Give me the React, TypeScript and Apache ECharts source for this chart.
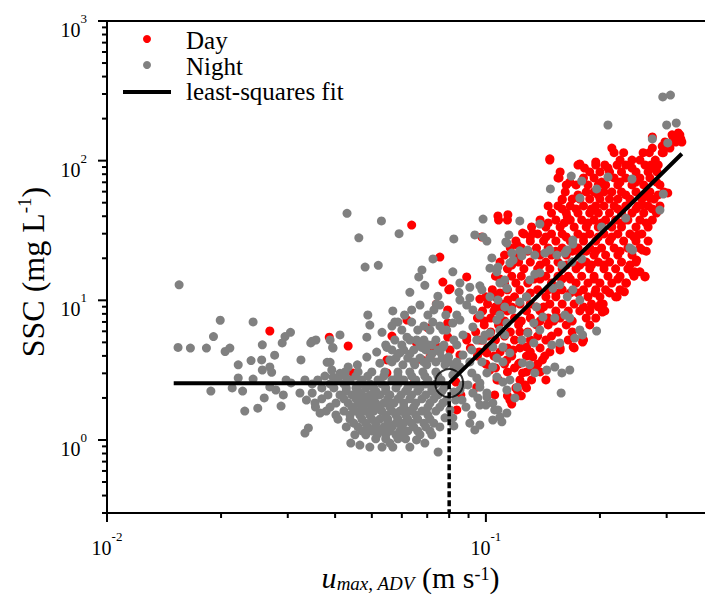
import React, { useEffect, useRef } from 'react';
import * as echarts from 'echarts';

const FONT = "'Liberation Serif', 'Times New Roman', serif";

const X_MIN = 0.01;
const X_MAX = 0.4;
const Y_MIN = 0.3;
const Y_MAX = 1000;

const xMajorTicks = [0.01, 0.1];
const xMinorTicks = [0.02, 0.03, 0.04, 0.05, 0.06, 0.07, 0.08, 0.09, 0.2, 0.3];
const yMajorTicks = [1, 10, 100, 1000];
const yMinorTicks = [
  0.3, 0.4, 0.5, 0.6, 0.7, 0.8, 0.9,
  2, 3, 4, 5, 6, 7, 8, 9,
  20, 30, 40, 50, 60, 70, 80, 90,
  200, 300, 400, 500, 600, 700, 800, 900,
];

// least-squares fit (two segments) and break point
const fitLine = [[0.015, 2.55], [0.08, 2.55], [0.329, 112]];
const breakPoint = [0.08, 2.55];

// Night (grey) points – sparse / outlying points
const nightSparse = [
  [0.0155, 12.9], [0.0154, 4.6], [0.0166, 4.55], [0.0183, 4.55], [0.0199, 7.2], [0.0191, 5.5],
  [0.0205, 4.3], [0.0211, 4.55], [0.0243, 7.0], [0.0222, 3.45], [0.024, 3.7], [0.0256, 3.74],
  [0.0257, 3.17], [0.0188, 2.24], [0.0214, 2.36], [0.0228, 2.24], [0.0222, 2.78], [0.0243, 2.73],
  [0.0231, 1.61], [0.025, 1.69], [0.026, 2.0], [0.0288, 1.75], [0.0292, 2.1], [0.0269, 2.4],
  [0.0279, 2.28], [0.0297, 2.69], [0.0306, 2.56], [0.0257, 4.8], [0.0277, 4.05], [0.029, 4.95],
  [0.0295, 5.5], [0.0305, 5.9], [0.0272, 3.05], [0.0269, 3.33], [0.0325, 3.74], [0.0333, 1.12],
  [0.034, 1.22], [0.0323, 2.17], [0.0336, 1.93], [0.0348, 2.17], [0.0355, 1.72], [0.0365, 1.56],
  [0.0345, 4.95], [0.0356, 5.2], [0.0394, 4.6], [0.0412, 5.65], [0.0381, 3.6], [0.0392, 3.17],
  [0.0395, 2.82], [0.0412, 3.0], [0.044, 0.95], [0.0465, 0.92], [0.0494, 0.89], [0.0532, 0.89],
  [0.0558, 0.95], [0.0568, 0.89], [0.0604, 1.05], [0.063, 0.89], [0.0656, 1.0], [0.069, 0.95],
  [0.0748, 0.82], [0.043, 42], [0.053, 37], [0.0462, 28], [0.059, 30], [0.048, 17.3], [0.052, 17.8],
  [0.0665, 14.7], [0.0725, 19.8], [0.074, 9.4], [0.0568, 8.4], [0.0575, 7.0], [0.0488, 7.85],
  [0.0494, 6.65], [0.0485, 5.45], [0.0532, 5.9], [0.0388, 5.2], [0.0395, 4.55], [0.0348, 5.1],
  [0.0388, 3.6], [0.0433, 3.33], [0.0458, 3.45], [0.0485, 3.92], [0.0515, 4.26], [0.0548, 4.6],
  [0.0525, 3.55], [0.0558, 3.74], [0.0593, 4.2], [0.0619, 5.45], [0.0656, 5.2], [0.0677, 4.6],
  [0.0703, 4.8], [0.063, 11.4], [0.069, 12.8], [0.0747, 10.7], [0.0678, 16.5], [0.0818, 16.0],
  [0.0854, 13.3],
];

// Night (grey) dense cloud, read row by row: [SSC, [u values]]
const nightBlobRows = [
  [3.07, [0.0425, 0.046, 0.05, 0.0541, 0.0586, 0.063, 0.0682, 0.0738]],
  [2.87, [0.0376, 0.0425, 0.0454, 0.0488, 0.0538, 0.0586, 0.0637, 0.069, 0.0747]],
  [2.69, [0.0333, 0.036, 0.0407, 0.0438, 0.0471, 0.0519, 0.0565, 0.0607, 0.0653, 0.0703, 0.0761]],
  [2.52, [0.0348, 0.0388, 0.0422, 0.0465, 0.0494, 0.0531, 0.0586, 0.0645, 0.0694, 0.0738]],
  [2.36, [0.0369, 0.0397, 0.0428, 0.0454, 0.0482, 0.0506, 0.0544, 0.0579, 0.0622, 0.067, 0.072, 0.0775]],
  [2.24, [0.0428, 0.046, 0.0512, 0.0544, 0.0614, 0.0661, 0.072, 0.0766]],
  [2.1, [0.0383, 0.0412, 0.0443, 0.0471, 0.0494, 0.0525, 0.0558, 0.0597, 0.0637, 0.0694, 0.0747]],
  [1.97, [0.0369, 0.0422, 0.0454, 0.0477, 0.0506, 0.0551, 0.0586, 0.063, 0.0678, 0.0729]],
  [1.84, [0.0354, 0.0402, 0.0433, 0.046, 0.0488, 0.0512, 0.0538, 0.0572, 0.0607, 0.0653, 0.0712, 0.077]],
  [1.72, [0.0388, 0.0443, 0.0471, 0.05, 0.0525, 0.0558, 0.0607, 0.0645, 0.0703, 0.0756]],
  [1.61, [0.0379, 0.0422, 0.0454, 0.0482, 0.0506, 0.0531, 0.0565, 0.0593, 0.063, 0.0678, 0.0738]],
  [1.51, [0.0402, 0.0438, 0.0465, 0.0494, 0.0544, 0.0579, 0.0614, 0.0653, 0.0703]],
  [1.41, [0.0407, 0.0438, 0.0471, 0.05, 0.0525, 0.0551, 0.0586, 0.0622, 0.0661, 0.0712]],
  [1.32, [0.0448, 0.0482, 0.0512, 0.0551, 0.0579, 0.0607, 0.0637, 0.0686, 0.0729]],
  [1.24, [0.0428, 0.046, 0.0488, 0.0512, 0.0538, 0.0565, 0.06, 0.0645, 0.0694, 0.0756]],
  [1.16, [0.0471, 0.05, 0.0531, 0.0558, 0.0593, 0.0622, 0.0661, 0.0712]],
  [1.09, [0.0451, 0.0482, 0.0516, 0.0544, 0.0579, 0.067, 0.072]],
  [1.02, [0.0512, 0.0544, 0.0586, 0.0614]],
  [9.26, [0.067, 0.0756]],
  [8.53, [0.0637, 0.0729]],
  [7.85, [0.061, 0.0703, 0.0784, 0.0838, 0.0964, 0.1089]],
  [6.99, [0.0586, 0.0637, 0.0724]],
  [6.55, [0.0565, 0.0686, 0.0756]],
  [6.13, [0.06, 0.0661, 0.0712, 0.077]],
  [5.65, [0.087, 0.0994, 0.1122]],
  [5.2, [0.0575, 0.063, 0.0686, 0.0738]],
  [4.79, [0.0544, 0.06, 0.067, 0.072, 0.0775]],
  [4.41, [0.0565, 0.0607, 0.0645, 0.0694, 0.0747]],
  [4.13, [0.0586, 0.063, 0.072]],
  [3.86, [0.0579, 0.0622, 0.067, 0.0712, 0.0766]],
  [3.62, [0.0565, 0.0645, 0.0686, 0.0738, 0.0797, 0.0838, 0.0907, 0.0976]],
  [3.45, [0.0604, 0.0649, 0.0698, 0.078]],
  [2.0, [0.0952, 0.1193]],
  [1.78, [0.0964, 0.1]],
  [1.28, [0.0964]],
];

// Night (grey) points along the rising branch
const nightMixed = [
  [0.293, 286], [0.307, 295], [0.21, 180], [0.3, 180], [0.318, 186], [0.275, 143], [0.302, 134],
  [0.294, 57.7], [0.288, 44.3], [0.168, 77.6], [0.179, 71.5], [0.148, 62.7], [0.21, 76.4],
  [0.243, 73.9], [0.196, 62.7], [0.177, 54], [0.0983, 38.2], [0.1229, 37], [0.1388, 35.2],
  [0.0935, 29.4], [0.1006, 26.6], [0.1129, 26.2], [0.115, 29.4], [0.1171, 21.8], [0.1244, 20.8],
  [0.1037, 20.1], [0.1025, 17.0], [0.1069, 16.0], [0.1122, 14.0], [0.0964, 12.7], [0.1696, 25.3],
  [0.179, 19.8], [0.1346, 15.4], [0.1388, 15.7], [0.1587, 17.9], [0.1636, 22.9], [0.1475, 22.9],
  [0.1431, 21.8], [0.234, 38.8], [0.202, 33.5], [0.244, 22.9], [0.0823, 27.5], [0.0983, 28.4],
  [0.1136, 25.7], [0.1076, 17.3], [0.1157, 18.5], [0.118, 19.4], [0.129, 22.9], [0.1346, 21.1],
  [0.154, 21.1], [0.1616, 21.8], [0.1686, 18.8], [0.1696, 27.0], [0.1306, 14.0], [0.1089, 13.3],
  [0.1136, 12.2], [0.0976, 11.9], [0.0907, 10.4], [0.089, 9.26], [0.0924, 8.53], [0.0854, 7.23],
  [0.0818, 6.88], [0.0788, 6.13], [0.1025, 10.6], [0.1076, 10.05], [0.1122, 8.96], [0.1171, 8.53],
  [0.1229, 9.73], [0.128, 10.6], [0.136, 8.96], [0.1502, 12.2], [0.1567, 12.9], [0.164, 10.6],
  [0.1696, 11.9], [0.177, 10.05], [0.1616, 7.85], [0.152, 7.47], [0.1665, 7.47], [0.177, 6.13],
  [0.18, 5.65], [0.1716, 5.37], [0.1414, 7.6], [0.1338, 6.88], [0.1388, 6.13], [0.129, 5.84],
  [0.1244, 5.2], [0.1338, 4.95], [0.1493, 4.79], [0.1567, 4.95], [0.1069, 7.23], [0.1136, 6.88],
  [0.1089, 6.13], [0.1025, 5.84], [0.0982, 5.2], [0.1043, 4.63], [0.1109, 4.63], [0.1157, 4.2],
  [0.1069, 3.86], [0.1109, 3.62], [0.0924, 6.44], [0.0946, 5.2], [0.0918, 4.41], [0.087, 4.06],
  [0.0838, 4.79], [0.0823, 5.2], [0.077, 4.63], [0.0797, 3.93], [0.0756, 4.27], [0.125, 3.56],
  [0.1306, 3.45], [0.1346, 3.02], [0.1448, 3.17], [0.152, 3.33], [0.1665, 3.17], [0.1587, 3.02],
  [0.158, 2.17], [0.1043, 3.33], [0.1006, 3.02], [0.1069, 2.82], [0.1109, 2.6], [0.1157, 2.69],
  [0.121, 2.39], [0.1136, 2.28], [0.0918, 3.02], [0.0946, 2.78], [0.0897, 2.48], [0.0924, 2.17],
  [0.0854, 2.28], [0.0964, 2.39], [0.1006, 2.03], [0.1043, 1.84], [0.1076, 1.64], [0.1136, 1.56],
  [0.1043, 1.39], [0.1102, 1.35], [0.0865, 1.93], [0.0886, 1.72], [0.0918, 1.51], [0.0907, 1.32],
  [0.196, 6.03], [0.24, 23.7], [0.087, 2.48], [0.0964, 2.56], [0.1006, 2.17], [0.1055, 1.64],
  [0.1089, 1.46], [0.0832, 1.93], [0.0935, 1.18], [0.0823, 2.21], [0.0788, 1.93], [0.0804, 1.64],
  [0.078, 1.44], [0.0818, 1.44], [0.0823, 1.26], [0.0818, 2.92], [0.0854, 3.33], [0.0823, 3.33],
  [0.1229, 22.6], [0.0907, 12.4], [0.0849, 11.4], [0.0854, 10.05],
];

// Day (red) cloud, read row by row: [SSC, [u values]]
const dayRows = [
  [153, [0.31, 0.325]],
  [136, [0.297, 0.317, 0.329]],
  [123, [0.215, 0.275, 0.306]],
  [114, [0.218, 0.231, 0.26, 0.27, 0.292]],
  [101, [0.1475, 0.226, 0.243, 0.255, 0.28]],
  [93.1, [0.175, 0.195, 0.206, 0.222, 0.234, 0.263, 0.273, 0.285]],
  [88.6, [0.182, 0.21, 0.243, 0.275]],
  [83.0, [0.157, 0.188, 0.2, 0.212, 0.228, 0.249, 0.268, 0.283]],
  [75.2, [0.155, 0.181, 0.193, 0.218, 0.234, 0.255, 0.271]],
  [70.3, [0.1665, 0.202, 0.226, 0.249, 0.282]],
  [67.0, [0.163, 0.173, 0.186, 0.198, 0.207, 0.223, 0.243, 0.261, 0.288]],
  [59.7, [0.162, 0.184, 0.193, 0.205, 0.215, 0.228, 0.249, 0.271, 0.295]],
  [56.8, [0.175, 0.198, 0.234, 0.261, 0.285]],
  [53.1, [0.159, 0.169, 0.177, 0.188, 0.2, 0.212, 0.223, 0.24, 0.258, 0.278]],
  [47.4, [0.146, 0.155, 0.167, 0.181, 0.195, 0.205, 0.218, 0.234, 0.252, 0.268, 0.288]],
  [45.1, [0.159, 0.173, 0.19, 0.223, 0.249, 0.275]],
  [42.2, [0.149, 0.163, 0.175, 0.188, 0.198, 0.212, 0.228, 0.243, 0.261, 0.282]],
  [37.6, [0.108, 0.114, 0.139, 0.153, 0.167, 0.179, 0.193, 0.207, 0.22, 0.237, 0.255, 0.275]],
  [35.8, [0.146, 0.161, 0.186, 0.202, 0.228, 0.265]],
  [33.5, [0.132, 0.144, 0.157, 0.171, 0.184, 0.198, 0.215, 0.228, 0.249, 0.268]],
  [29.9, [0.126, 0.137, 0.149, 0.159, 0.175, 0.188, 0.205, 0.223, 0.24, 0.258]],
  [28.4, [0.131, 0.144, 0.163, 0.181, 0.198, 0.215, 0.246]],
  [26.6, [0.12, 0.131, 0.142, 0.153, 0.167, 0.181, 0.195, 0.212, 0.231, 0.249, 0.268]],
  [23.7, [0.116, 0.124, 0.136, 0.146, 0.159, 0.175, 0.188, 0.202, 0.218, 0.237, 0.255]],
  [22.5, [0.129, 0.153, 0.169, 0.184, 0.195, 0.226, 0.265]],
  [21.1, [0.112, 0.12, 0.139, 0.149, 0.163, 0.177, 0.193, 0.207, 0.223, 0.243]],
  [18.8, [0.109, 0.122, 0.131, 0.144, 0.155, 0.169, 0.184, 0.198, 0.212, 0.228, 0.249]],
  [17.9, [0.117, 0.139, 0.163, 0.177, 0.19, 0.205, 0.24]],
  [16.8, [0.114, 0.126, 0.137, 0.1475, 0.159, 0.173, 0.188, 0.205, 0.22, 0.237]],
  [14.9, [0.106, 0.117, 0.124, 0.144, 0.155, 0.165, 0.179, 0.193, 0.21, 0.226, 0.246, 0.263]],
  [14.2, [0.109, 0.134, 0.139, 0.159, 0.167, 0.193, 0.223]],
  [13.3, [0.112, 0.12, 0.129, 0.149, 0.173, 0.186, 0.2, 0.215, 0.234]],
  [11.9, [0.104, 0.114, 0.123, 0.137, 0.146, 0.159, 0.181, 0.195, 0.207, 0.226]],
  [11.3, [0.109, 0.131, 0.153, 0.167, 0.175, 0.212]],
  [10.6, [0.1, 0.106, 0.119, 0.128, 0.144, 0.153, 0.186, 0.2, 0.22]],
  [9.41, [0.101, 0.11, 0.123, 0.131, 0.1475, 0.159, 0.171, 0.19, 0.204]],
  [8.96, [0.106, 0.117, 0.136, 0.142, 0.181, 0.198]],
  [8.39, [0.098, 0.105, 0.114, 0.128, 0.139, 0.153, 0.165, 0.177, 0.188, 0.206]],
  [7.47, [0.095, 0.103, 0.119, 0.131, 0.146, 0.157, 0.184, 0.195]],
  [7.11, [0.099, 0.112, 0.124, 0.139, 0.151, 0.169]],
  [6.66, [0.099, 0.108, 0.122, 0.136, 0.146, 0.163, 0.188]],
  [5.93, [0.094, 0.103, 0.116, 0.123, 0.129, 0.155, 0.169]],
  [5.55, [0.101, 0.112, 0.137, 0.149]],
  [5.2, [0.089, 0.098, 0.106, 0.119, 0.131, 0.144, 0.165, 0.181]],
  [4.56, [0.091, 0.101, 0.114, 0.123, 0.139, 0.157, 0.171]],
  [4.27, [0.096, 0.109, 0.131, 0.1475]],
  [3.99, [0.095, 0.105, 0.117, 0.128, 0.143]],
  [3.5, [0.1, 0.112, 0.122, 0.137]],
  [3.28, [0.106, 0.119, 0.132]],
  [3.07, [0.114, 0.128, 0.139]],
  [2.69, [0.108, 0.123, 0.132, 0.144]],
  [2.36, [0.12, 0.128]],
  [2.07, [0.114, 0.124]],
  [1.81, [0.117]],
];

// Day (red) scattered points
const dayScattered = [
  [0.0637, 34.6], [0.0756, 20.4], [0.077, 13.5], [0.074, 9.4], [0.0269, 6.03], [0.0386, 5.45],
  [0.0433, 4.71], [0.0565, 5.55], [0.0619, 7.23], [0.0703, 6.34], [0.0724, 4.27], [0.0678, 3.74],
  [0.0548, 3.74], [0.0548, 3.02], [0.0446, 3.02], [0.0649, 2.69], [0.0793, 8.53], [0.0793, 6.88],
  [0.0793, 5.46], [0.0798, 11.9], [0.0656, 4.95], [0.0743, 4.63], [0.0712, 3.93], [0.0833, 2.6],
  [0.0838, 1.64], [0.0804, 4.41], [0.0854, 4.06], [0.089, 5.46], [0.0964, 5.2], [0.1025, 3.17],
  [0.107, 2.69], [0.1157, 1.93], [0.121, 2.28], [0.125, 3.02], [0.1229, 3.56], [0.1006, 4.2],
  [0.1136, 3.74], [0.118, 4.41], [0.128, 4.63], [0.133, 3.93], [0.136, 3.17], [0.0946, 2.39],
  [0.1055, 2.1], [0.127, 2.48], [0.0859, 2.1], [0.141, 3.74], [0.17, 4.63], [0.18, 5.03],
  [0.157, 4.41], [0.1076, 40.2], [0.1143, 41.0], [0.0976, 28.4], [0.121, 24.9], [0.125, 30.3],
  [0.133, 30.3], [0.089, 14.7], [0.0804, 12.1], [0.1475, 103], [0.156, 75.2], [0.159, 52.3],
  [0.164, 39.5], [0.177, 94.7], [0.195, 97.8], [0.302, 58.7], [0.271, 54], [0.259, 48.2],
  [0.252, 29.4], [0.259, 22.9], [0.25, 19.4], [0.247, 16.0], [0.263, 14.7], [0.255, 16.0],
  [0.244, 15.7], [0.235, 13.3], [0.232, 11.5], [0.222, 10.6], [0.203, 8.25], [0.2, 9.26],
  [0.194, 11.3], [0.188, 8.53], [0.322, 158], [0.327, 143], [0.312, 148], [0.292, 127],
  [0.294, 114], [0.275, 148], [0.0964, 10.2], [0.1043, 11.2], [0.1089, 8.7], [0.1143, 10.05],
];

const expandRows = (rows: any[]) => {
  const out: number[][] = [];
  rows.forEach(([y, xs]: [number, number[]]) => xs.forEach((x) => out.push([x, y])));
  return out;
};

const supLabel = (v: number) => {
  const e = Math.log10(v);
  const r = Math.round(e);
  if (Math.abs(e - r) > 1e-6) return '';
  return `{b|10}{s|${r}}`;
};

export default function App() {
  const ref = useRef<HTMLDivElement>(null);

  useEffect(() => {
    if (!ref.current) return;
    const chart = echarts.init(ref.current, undefined, { renderer: 'svg' });

    const dayData = [...expandRows(dayRows), ...dayScattered];
    const nightData = [...nightSparse, ...expandRows(nightBlobRows), ...nightMixed];

    const tickStyle = { stroke: '#000', lineWidth: 2 };
    const xTickData = [
      ...xMajorTicks.map((v) => [v, Y_MIN, 9]),
      ...xMinorTicks.map((v) => [v, Y_MIN, 5]),
    ];
    const yTickData = [
      ...yMajorTicks.map((v) => [X_MIN, v, 9]),
      ...yMinorTicks.map((v) => [X_MIN, v, 5]),
    ];

    const labelRich = {
      b: { fontFamily: FONT, fontSize: 20, lineHeight: 28, verticalAlign: 'bottom', color: '#000' },
      s: { fontFamily: FONT, fontSize: 13, lineHeight: 10, verticalAlign: 'top', color: '#000' },
    };

    const legendText = (text: string, y: number) => ({
      type: 'text',
      x: 186,
      y,
      style: { text, fontFamily: FONT, fontSize: 25, lineHeight: 20, fill: '#000', verticalAlign: 'middle' },
    });

    chart.setOption({
      animation: false,
      grid: {
        left: 107,
        top: 21,
        width: 607,
        height: 492,
        outerBoundsMode: 'none',
        containLabel: false,
        show: true,
        borderColor: '#000',
        borderWidth: 2,
        backgroundColor: 'transparent',
      },
      xAxis: {
        type: 'log',
        logBase: 10,
        min: X_MIN,
        max: X_MAX,
        name: '{u|u}{sub|max, ADV}{n| (m s}{sup|-1}{n|)}',
        nameLocation: 'middle',
        nameGap: 42,
        nameTextStyle: {
          rich: {
            u: { fontFamily: FONT, fontSize: 30, fontStyle: 'italic', lineHeight: 28, verticalAlign: 'bottom', color: '#000' },
            sub: { fontFamily: FONT, fontSize: 19, fontStyle: 'italic', lineHeight: 13, verticalAlign: 'bottom', color: '#000' },
            n: { fontFamily: FONT, fontSize: 30, lineHeight: 28, verticalAlign: 'bottom', color: '#000' },
            sup: { fontFamily: FONT, fontSize: 18, lineHeight: 15, verticalAlign: 'top', color: '#000' },
          },
        },
        axisLine: { onZero: false, lineStyle: { color: '#000', width: 2 } },
        axisTick: { show: false },
        splitLine: { show: false },
        axisLabel: { margin: 17, formatter: supLabel, rich: labelRich },
      },
      yAxis: {
        type: 'log',
        logBase: 10,
        min: Y_MIN,
        max: Y_MAX,
        name: '{n|SSC (mg L}{sup|-1}{n|)}',
        nameLocation: 'middle',
        nameRotate: 90,
        nameGap: 58,
        nameTextStyle: {
          padding: [0, 10, 0, 0],
          rich: {
            n: { fontFamily: FONT, fontSize: 32, lineHeight: 34, verticalAlign: 'bottom', color: '#000' },
            sup: { fontFamily: FONT, fontSize: 19, lineHeight: 18, verticalAlign: 'top', color: '#000' },
          },
        },
        axisLine: { onZero: false, lineStyle: { color: '#000', width: 2 } },
        axisTick: { show: false },
        splitLine: { show: false },
        axisLabel: { margin: 20, padding: [10, 0, 0, 0], formatter: supLabel, rich: labelRich },
      },
      graphic: [
        { type: 'circle', shape: { cx: 147, cy: 39, r: 4 }, style: { fill: '#ff0000' } },
        { type: 'circle', shape: { cx: 147, cy: 65, r: 4 }, style: { fill: '#808080' } },
        { type: 'line', shape: { x1: 123, y1: 92, x2: 171, y2: 92 }, style: { stroke: '#000', lineWidth: 4 } },
        legendText('Day', 40),
        legendText('Night', 66),
        legendText('least-squares fit', 91),
      ],
      series: [
        {
          name: 'Day',
          type: 'scatter',
          data: dayData,
          symbol: 'circle',
          symbolSize: 9,
          itemStyle: { color: '#ff0000', opacity: 1 },
          silent: true,
          z: 2,
        },
        {
          name: 'Night',
          type: 'scatter',
          data: nightData,
          symbol: 'circle',
          symbolSize: 9,
          itemStyle: { color: '#808080', opacity: 1 },
          silent: true,
          z: 3,
        },
        {
          name: 'least-squares fit',
          type: 'line',
          data: fitLine,
          symbol: 'none',
          lineStyle: { color: '#000', width: 4 },
          silent: true,
          z: 5,
        },
        {
          name: 'drop',
          type: 'line',
          data: [breakPoint, [breakPoint[0], Y_MIN]],
          symbol: 'none',
          lineStyle: { color: '#000', width: 3.5, type: [6, 3] },
          silent: true,
          z: 5,
        },
        {
          name: 'break',
          type: 'scatter',
          data: [breakPoint],
          symbol: 'circle',
          symbolSize: 28,
          itemStyle: { color: 'rgba(0,0,0,0)', borderColor: '#000', borderWidth: 2 },
          silent: true,
          z: 6,
        },
        {
          name: 'xTicks',
          type: 'custom',
          data: xTickData,
          clip: false,
          silent: true,
          z: 7,
          renderItem: (params: any, api: any) => {
            const p = api.coord([api.value(0), api.value(1)]);
            const len = api.value(2);
            return { type: 'line', shape: { x1: p[0], y1: p[1], x2: p[0], y2: p[1] + len }, style: tickStyle };
          },
        },
        {
          name: 'yTicks',
          type: 'custom',
          data: yTickData,
          clip: false,
          silent: true,
          z: 7,
          renderItem: (params: any, api: any) => {
            const p = api.coord([api.value(0), api.value(1)]);
            const len = api.value(2);
            return { type: 'line', shape: { x1: p[0] - len, y1: p[1], x2: p[0], y2: p[1] }, style: tickStyle };
          },
        },
      ],
    });

    return () => chart.dispose();
  }, []);

  return (
    <div
      ref={ref}
      style={{ position: 'absolute', left: 0, top: 0, width: 705, height: 595, background: '#fff' }}
    />
  );
}
